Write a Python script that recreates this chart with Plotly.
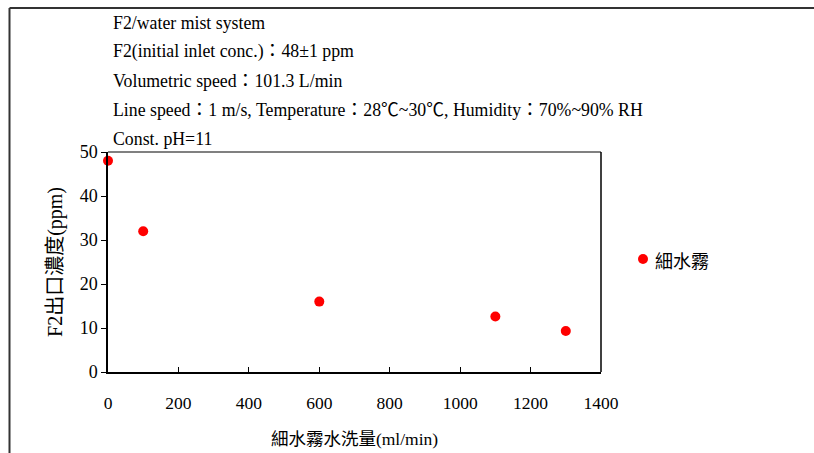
import plotly.graph_objects as go

# Water-mist flow rate (ml/min) vs. F2 outlet concentration (ppm)
flow_rate = [0, 100, 600, 1100, 1300]
f2_outlet = [48, 32, 16, 12.6, 9.3]
series_name = "細水霧"

x_ticks = [0, 200, 400, 600, 800, 1000, 1200, 1400]
y_ticks = [0, 10, 20, 30, 40, 50]

notes = [
    "F2/water mist system",
    "F2(initial inlet conc.)：48±1 ppm",
    "Volumetric speed：101.3 L/min",
    "Line speed：1 m/s, Temperature：28℃~30℃, Humidity：70%~90% RH",
    "Const. pH=11",
]

W, H = 814, 453
L, T, R, B = 108, 152, 601, 372  # plot area in pixels
PW, PH = R - L, B - T

def px(x):
    return (x - L) / PW

def py(y):
    return (B - y) / PH

serif = "Liberation Serif, 'Noto Sans CJK TC', serif"
red = "#ff0000"

fig = go.Figure()
fig.add_trace(go.Scatter(
    x=flow_rate, y=f2_outlet, mode="markers", name=series_name,
    marker=dict(color=red, size=10, line=dict(width=0)),
    cliponaxis=False, showlegend=False,
))

fig.update_layout(
    width=W, height=H,
    margin=dict(l=L, r=W - R, t=T, b=H - B, autoexpand=False),
    paper_bgcolor="white", plot_bgcolor="white",
    font=dict(family=serif, size=17, color="black"),
    xaxis=dict(range=[0, 1400], tickvals=x_ticks, ticks="inside", ticklen=5,
               tickcolor="black", showgrid=False, zeroline=False,
               showline=True, linecolor="black", linewidth=1.5,
               ticklabelstandoff=14, automargin=False,
               tickfont=dict(family=serif, size=17.5),
               title=dict(text="細水霧水洗量(ml/min)", standoff=21,
                          font=dict(family=serif, size=17.5))),
    yaxis=dict(range=[0, 50], tickvals=y_ticks, ticks="outside", ticklen=5,
               tickcolor="black", showgrid=False, zeroline=False,
               showline=True, linecolor="black", linewidth=1.5,
               automargin=False,
               tickfont=dict(family=serif, size=18),
               title=dict(text="F2出口濃度(ppm)", standoff=12,
                          font=dict(family=serif, size=20))),
)

# top and right borders of the plot area
fig.add_shape(type="line", xref="paper", yref="paper", x0=0, x1=1, y0=1, y1=1,
              line=dict(color="#808080", width=2))
fig.add_shape(type="line", xref="paper", yref="paper", x0=1, x1=1, y0=0, y1=1,
              line=dict(color="black", width=1.5))

# outer frame
fig.add_shape(type="line", xref="paper", yref="paper",
              x0=px(9.5), x1=px(830), y0=py(8), y1=py(8),
              line=dict(color="#333333", width=2))
fig.add_shape(type="line", xref="paper", yref="paper",
              x0=px(9.5), x1=px(9.5), y0=py(8), y1=py(470),
              line=dict(color="#333333", width=2))

# series key
fig.add_shape(type="circle", xref="paper", yref="paper",
              xsizemode="pixel", ysizemode="pixel",
              xanchor=px(643), yanchor=py(259), x0=-5, x1=5, y0=-5, y1=5,
              fillcolor=red, line=dict(width=0))
fig.add_annotation(text=series_name, xref="paper", yref="paper",
                   x=px(653), y=py(260), xanchor="left", yanchor="middle",
                   showarrow=False,
                   font=dict(family="'Noto Sans CJK TC', sans-serif", size=18))

for i, txt in enumerate(notes):
    fig.add_annotation(text=txt, xref="paper", yref="paper",
                       x=px(111), y=py(23 + 29 * i), xanchor="left", yanchor="middle",
                       showarrow=False, font=dict(family=serif, size=17.8))

fig.write_html("out.html")
